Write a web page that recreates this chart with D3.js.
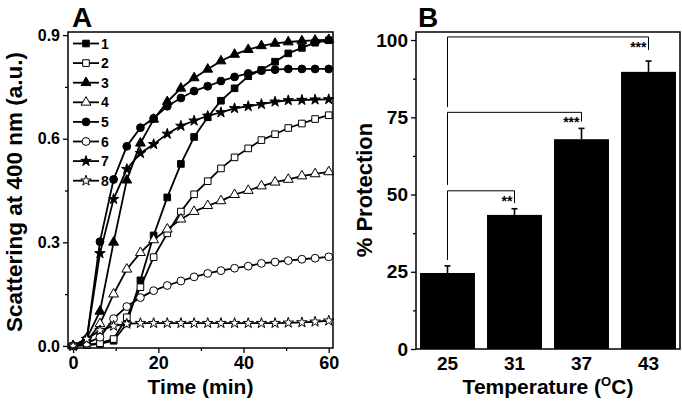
<!DOCTYPE html>
<html><head><meta charset="utf-8">
<script src="https://cdn.jsdelivr.net/npm/d3@7"></script>
<style>
html,body{margin:0;padding:0;background:#fff;}
svg{display:block;font-family:"Liberation Sans",Arial,sans-serif;font-weight:bold;}
</style></head>
<body>
<svg id="chart" width="682" height="402"></svg>
<script>
// ---------- Panel A data ----------
const times = [0,3.2,6.3,9.5,12.6,15.8,18.9,22.1,25.3,28.4,31.6,34.7,37.9,41.1,44.2,47.4,50.5,53.7,56.8,60];
const s1 = [0,0.002,0.006,0.015,0.065,0.19,0.32,0.43,0.527,0.605,0.662,0.71,0.746,0.781,0.799,0.823,0.847,0.863,0.878,0.885];
const s2 = [0,0.003,0.008,0.02,0.083,0.17,0.257,0.326,0.389,0.439,0.477,0.514,0.546,0.572,0.596,0.613,0.631,0.644,0.657,0.668];
const s3 = [0,0.022,0.1,0.3,0.48,0.587,0.656,0.707,0.746,0.776,0.801,0.825,0.844,0.858,0.869,0.876,0.88,0.883,0.885,0.887];
const s4 = [0,0.012,0.064,0.15,0.222,0.27,0.307,0.338,0.367,0.389,0.406,0.42,0.438,0.45,0.463,0.474,0.482,0.492,0.498,0.504];
const s5 = [0,0.02,0.302,0.482,0.578,0.632,0.659,0.694,0.718,0.738,0.752,0.767,0.779,0.789,0.797,0.8,0.802,0.802,0.802,0.802];
const s6 = [0,0.008,0.025,0.079,0.114,0.14,0.16,0.175,0.188,0.2,0.21,0.218,0.225,0.231,0.239,0.243,0.247,0.251,0.254,0.258];
const s7 = [0,0.019,0.268,0.425,0.512,0.558,0.584,0.614,0.637,0.652,0.666,0.676,0.688,0.694,0.7,0.707,0.711,0.712,0.713,0.714];
const s8 = [0,0.02,0.045,0.058,0.064,0.066,0.066,0.066,0.066,0.066,0.066,0.066,0.066,0.066,0.066,0.066,0.067,0.068,0.07,0.073];
const seriesNames = ["1","2","3","4","5","6","7","8"];
const seriesValues = [s1,s2,s3,s4,s5,s6,s7,s8];
const seriesShapes = ["square","square","triangle","triangle","circle","circle","star","star"];
const seriesFilled = [true,false,true,false,true,false,true,false];
const xTicksA = [0,20,40,60];
const yTicksA = [0,0.3,0.6,0.9];

// ---------- Panel B data ----------
const temps = ["25","31","37","43"];
const protection = [24.6,43.4,67.9,89.7];
const protErr = [2.3,2.0,3.5,3.5];
const yTicksB = [0,25,50,75,100];
const brackets = [
  {from:"25",to:"31",top:51.2,left:28.8,right:47.2,label:"**"},
  {from:"25",to:"37",top:76.6,left:53.1,right:73.6,label:"***"},
  {from:"25",to:"43",top:101,left:78.3,right:96.8,label:"***"}
];

const svg = d3.select("#chart");

// ================= Panel A =================
const A = {l:68,t:32,r:333,b:348};
const xA = d3.scaleLinear().domain([-1.2,61]).range([A.l,A.r]);
const yA = d3.scaleLinear().domain([-0.006,0.909]).range([A.b,A.t]);

const symType = {square:d3.symbolSquare,triangle:d3.symbolTriangle,circle:d3.symbolCircle,star:d3.symbolStar};
const symSize = {square:44,triangle:42,circle:48,star:34};
function sym(shape){return d3.symbol().type(symType[shape]).size(symSize[shape])();}

// axes
const gxA = svg.append("g").attr("transform",`translate(0,${A.b})`)
  .call(d3.axisBottom(xA).tickValues(xTicksA).tickSize(5).tickSizeOuter(0).tickPadding(3).tickFormat(d3.format("d")));
const gxAm = svg.append("g").attr("transform",`translate(0,${A.b})`)
  .call(d3.axisBottom(xA).tickValues([10,30,50]).tickSize(3).tickSizeOuter(0).tickFormat(""));
const gyA = svg.append("g").attr("transform",`translate(${A.l},0)`)
  .call(d3.axisLeft(yA).tickValues(yTicksA).tickSize(5).tickSizeOuter(0).tickPadding(3).tickFormat(d3.format(".1f")));
const gyAm = svg.append("g").attr("transform",`translate(${A.l},0)`)
  .call(d3.axisLeft(yA).tickValues([0.15,0.45,0.75]).tickSize(3).tickSizeOuter(0).tickFormat(""));
[gxA,gxAm,gyA,gyAm].forEach(g=>{g.select(".domain").remove();g.selectAll("line").attr("stroke","#000").attr("stroke-width",1.3);});
gxA.selectAll("text").attr("font-size",18).attr("font-weight","bold").attr("fill","#000");
gyA.selectAll("text").attr("font-size",16).attr("font-weight","bold").attr("fill","#000");

// lines & markers
const lineGen = d3.line().x((d,i)=>xA(times[i])).y(d=>yA(d));
const plotA = svg.append("g");
seriesValues.forEach((vals,k)=>{
  plotA.append("path").attr("d",lineGen(vals)).attr("fill","none").attr("stroke","#000").attr("stroke-width",1.8);
});
seriesValues.forEach((vals,k)=>{
  plotA.selectAll(null).data(vals).enter().append("path")
    .attr("d",sym(seriesShapes[k]))
    .attr("transform",(d,i)=>`translate(${xA(times[i])},${yA(d)})`)
    .attr("fill",seriesFilled[k]?"#000":"#fff")
    .attr("stroke","#000").attr("stroke-width",1);
});

// legend
const leg = svg.append("g");
seriesNames.forEach((n,k)=>{
  const y = 43.5 + k*19.6;
  leg.append("line").attr("x1",73).attr("x2",99).attr("y1",y).attr("y2",y).attr("stroke","#000").attr("stroke-width",1.8);
  leg.append("path").attr("d",sym(seriesShapes[k])).attr("transform",`translate(86,${y})`)
    .attr("fill",seriesFilled[k]?"#000":"#fff").attr("stroke","#000").attr("stroke-width",1);
  leg.append("text").attr("x",101).attr("y",y+5).attr("font-size",14).attr("fill","#000").text(n);
});

// frame
svg.append("rect").attr("x",A.l).attr("y",A.t).attr("width",A.r-A.l).attr("height",A.b-A.t)
  .attr("fill","none").attr("stroke","#000").attr("stroke-width",1.5);

// titles
svg.append("text").attr("x",72).attr("y",27).attr("font-size",28).text("A");
svg.append("text").attr("x",(A.l+A.r)/2).attr("y",394).attr("text-anchor","middle").attr("font-size",21).text("Time (min)");
svg.append("text").attr("transform",`translate(22,${(A.t+A.b)/2 + 2}) rotate(-90)`).attr("text-anchor","middle")
  .attr("font-size",22.5).text("Scattering at 400 nm (a.u.)");

// ================= Panel B =================
const B = {l:416,t:32,r:680,b:349};
const xB = d3.scaleBand().domain(temps).range([B.l,B.r]).paddingInner(0.18).paddingOuter(0.06);
const yB = d3.scaleLinear().domain([0,102.6]).range([B.b,B.t]);

const gyB = svg.append("g").attr("transform",`translate(${B.l},0)`)
  .call(d3.axisLeft(yB).tickValues(yTicksB).tickSize(5).tickSizeOuter(0).tickPadding(3));
const gyBm = svg.append("g").attr("transform",`translate(${B.l},0)`)
  .call(d3.axisLeft(yB).tickValues([12.5,37.5,62.5,87.5]).tickSize(3).tickSizeOuter(0).tickFormat(""));
const gxB = svg.append("g").attr("transform",`translate(0,${B.b})`)
  .call(d3.axisBottom(xB).tickSize(0).tickPadding(8));
[gyB,gyBm,gxB].forEach(g=>{g.select(".domain").remove();g.selectAll("line").attr("stroke","#000").attr("stroke-width",1.3);});
gyB.selectAll("text").attr("font-size",19).attr("font-weight","bold").attr("fill","#000");
gxB.selectAll("text").attr("font-size",19).attr("font-weight","bold").attr("fill","#000");

// bars
svg.append("g").selectAll("rect").data(temps).enter().append("rect")
  .attr("x",d=>xB(d)).attr("width",xB.bandwidth())
  .attr("y",(d,i)=>yB(protection[i])).attr("height",(d,i)=>yB(0)-yB(protection[i]))
  .attr("fill","#000");
// error bars (upper)
const eb = svg.append("g").attr("stroke","#000").attr("stroke-width",1.6);
temps.forEach((t,i)=>{
  const cx = xB(t)+xB.bandwidth()/2;
  eb.append("line").attr("x1",cx).attr("x2",cx).attr("y1",yB(protection[i])).attr("y2",yB(protection[i]+protErr[i]));
  eb.append("line").attr("x1",cx-3).attr("x2",cx+3).attr("y1",yB(protection[i]+protErr[i])).attr("y2",yB(protection[i]+protErr[i]));
});
// significance brackets
const br = svg.append("g");
brackets.forEach(b=>{
  const x1 = xB(b.from)+xB.bandwidth()/2, x2 = xB(b.to)+xB.bandwidth()/2;
  br.append("path").attr("d",`M${x1},${yB(b.left)}V${yB(b.top)}H${x2}V${yB(b.right)}`)
    .attr("fill","none").attr("stroke","#000").attr("stroke-width",1);
  br.append("text").attr("x",x2-2).attr("y",yB(b.top)+15).attr("text-anchor","end").attr("font-size",14).text(b.label);
});

// frame
svg.append("rect").attr("x",B.l).attr("y",B.t).attr("width",B.r-B.l).attr("height",B.b-B.t)
  .attr("fill","none").attr("stroke","#000").attr("stroke-width",1.5);

svg.append("text").attr("x",418).attr("y",27).attr("font-size",28).text("B");
const xt = svg.append("text").attr("x",(B.l+B.r)/2).attr("y",394).attr("text-anchor","middle").attr("font-size",21);
xt.append("tspan").text("Temperature (");
xt.append("tspan").attr("font-size",13).attr("dy",-8).text("O");
xt.append("tspan").attr("dy",8).text("C)");
svg.append("text").attr("transform",`translate(372,${190}) rotate(-90)`).attr("text-anchor","middle")
  .attr("font-size",22).text("% Protection");
</script>
</body></html>
